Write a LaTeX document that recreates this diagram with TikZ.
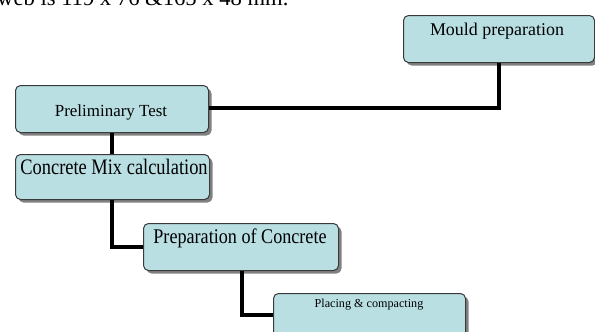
\documentclass[tikz,border=0pt]{standalone}
\usepackage{fontspec}
\setmainfont{Liberation Serif}
\usetikzlibrary{shadows}
\definecolor{boxfill}{HTML}{B9DFE3}
\definecolor{boxline}{HTML}{3A3A3A}
\tikzset{
  box/.style={draw=boxline, line width=1bp, fill=boxfill, rounded corners=5bp,
    anchor=north west, inner sep=0pt,
    drop shadow={shadow xshift=3bp, shadow yshift=-3bp, fill=black!55, opacity=0.9}},
  conn/.style={draw=black, line width=3.3bp},
  lbl/.style={inner sep=0pt, text=black}
}
\begin{document}
\begin{tikzpicture}[x=1bp,y=-1bp]
\useasboundingbox (0,0) rectangle (595,331);
\begin{scope}
\clip (0,0) rectangle (595,331);
% partially visible line of text at the top
\node[lbl, anchor=base west, font=\fontsize{22.7}{26}\selectfont] (topline) at (-3,5) {web is 119 x 76 \&165 x 48 mm.};
% connectors
\coordinate (c1) at (499,108);
\coordinate (c2) at (112,247);
\coordinate (c3) at (242,315);
% boxes
\node[box, minimum width=191bp, minimum height=47bp] (mould) at (403,15) {};
\node[box, minimum width=193bp, minimum height=47bp] (prelim) at (15,85) {};
\node[box, minimum width=194bp, minimum height=45bp] (mix) at (15,154) {};
\node[box, minimum width=195bp, minimum height=47bp] (prep) at (143,223) {};
\node[box, minimum width=192bp, minimum height=60bp] (place) at (273,293) {};
\draw[conn] (mould.south -| c1) -- (c1) -- (c1 -| prelim.east);
\draw[conn] (prelim.south -| c2) -- (mix.north -| c2);
\draw[conn] (mix.south -| c2) -- (c2) -- (c2 -| prep.west);
\draw[conn] (prep.south -| c3) -- (c3) -- (c3 -| place.west);
% labels
\node[lbl, font=\fontsize{18}{20}\selectfont] (mouldT) at (497,31) {Mould preparation};
\node[lbl, font=\fontsize{17}{20}\selectfont] (prelimT) at (111,112.5) {Preliminary Test};
\node[lbl, font=\fontsize{18.5}{20}\selectfont] (mixT) at (114,167) {\scalebox{1}[1.2]{Concrete Mix calculation}};
\node[lbl, font=\fontsize{18.2}{20}\selectfont] (prepT) at (240,238) {\scalebox{1}[1.15]{Preparation of Concrete}};
\node[lbl, font=\fontsize{12.2}{14}\selectfont] (placeT) at (369,304.5) {Placing \& compacting};
\end{scope}
\end{tikzpicture}
\end{document}
